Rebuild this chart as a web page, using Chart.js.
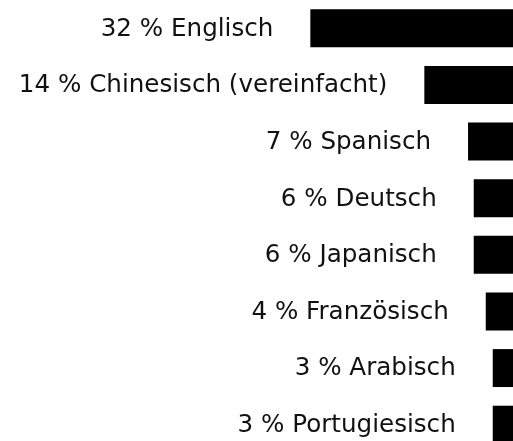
<!DOCTYPE html>
<html>
<head>
    <meta charset="utf-8">
    <title>Sprachen</title>
    <script src="https://cdn.jsdelivr.net/npm/chart.js"></script>
    <style>
        html, body {
            margin: 0;
            padding: 0;
            background: #fff;
            overflow: hidden;
        }
    </style>
</head>
<body>
    <canvas id="barChart" width="513" height="453"></canvas>

    <script>
        // languages, top to bottom
        const languages = ['Englisch', 'Chinesisch (vereinfacht)', 'Spanisch', 'Deutsch',
            'Japanisch', 'Französisch', 'Arabisch', 'Portugiesisch'];
        // share in percent
        const shares = [32, 14, 7.1, 6.2, 6.2, 4.3, 3.2, 3.2];
        const axisMax = 81;

        // write "NN % Name" left of each bar
        const sideLabels = {
            id: 'sideLabels',
            afterDatasetsDraw(chart) {
                const ctx = chart.ctx;
                const meta = chart.getDatasetMeta(0);
                ctx.save();
                ctx.font = '24.6px "DejaVu Sans", Verdana, sans-serif';
                ctx.fillStyle = '#111';
                ctx.textAlign = 'right';
                ctx.textBaseline = 'middle';
                meta.data.forEach((bar, i) => {
                    const text = Math.round(shares[i]) + ' % ' + languages[i];
                    ctx.fillText(text, bar.x - 37, bar.y + 1);
                });
                ctx.restore();
            }
        };

        new Chart(document.getElementById('barChart').getContext('2d'), {
            type: 'bar',
            data: {
                labels: languages,
                datasets: [{
                    data: shares,
                    backgroundColor: '#000',
                    borderWidth: 0,
                    categoryPercentage: 1,
                    barPercentage: 0.67
                }]
            },
            options: {
                indexAxis: 'y',
                responsive: false,
                animation: false,
                layout: { padding: 0 },
                plugins: {
                    legend: { display: false },
                    tooltip: { enabled: false }
                },
                scales: {
                    x: {
                        display: false,
                        reverse: true,
                        min: 0,
                        max: axisMax
                    },
                    y: {
                        display: false
                    }
                }
            },
            plugins: [sideLabels]
        });
    </script>
</body>
</html>
